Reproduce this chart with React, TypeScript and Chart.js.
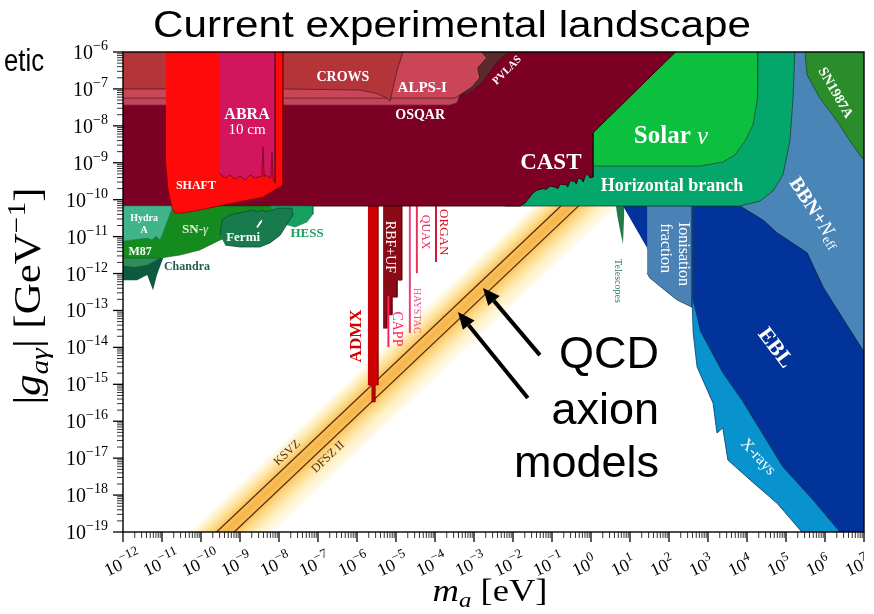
import React, { useEffect, useRef } from "react";
import { Chart, registerables } from "chart.js";

Chart.register(...registerables);

type P = [number, number]; // [log10 m_a (eV), log10 |g| (GeV^-1)]

// ---------- axes ----------
const X_DECADES = [-12, -11, -10, -9, -8, -7, -6, -5, -4, -3, -2, -1, 0, 1, 2, 3, 4, 5, 6, 7];
const Y_DECADES = [-19, -18, -17, -16, -15, -14, -13, -12, -11, -10, -9, -8, -7, -6];

// ---------- QCD axion models: log g = log m + offset ----------
const KSVZ_OFFSET = -9.4;
const DFSZ_OFFSET = -9.85;
const BAND_UPPER = -8.71;
const BAND_LOWER = -10.84;
const MODEL_MASS: [number, number] = [-12.5, 3];

// ---------- exclusion regions (log10 m, log10 g) ----------
const ADMX: P[] = [[-5.72, -10.17], [-5.46, -10.17], [-5.46, -15.02], [-5.54, -15.02], [-5.54, -15.48], [-5.62, -15.48], [-5.62, -15.02], [-5.72, -15.02]];
const RBF_UF: P[] = [[-5.33, -10.17], [-4.85, -10.17], [-4.85, -12.18], [-4.97, -12.18], [-4.97, -12.64], [-5.10, -12.64], [-5.10, -13.12], [-5.23, -13.12], [-5.23, -13.48], [-5.33, -13.48]];
const CAPP: P[] = [[-5.22, -12.6], [-5.17, -12.6], [-5.17, -13.99], [-5.22, -13.99]];
const HAYSTAC: P[] = [[-4.67, -10.17], [-4.62, -10.17], [-4.62, -13.61], [-4.67, -13.61]];
const QUAX: P[] = [[-4.49, -10.17], [-4.44, -10.17], [-4.44, -11.99], [-4.49, -11.99]];
const ORGAN: P[] = [[-4.0, -10.17], [-3.95, -10.17], [-3.95, -11.69], [-4.0, -11.69]];
const TELESCOPES: P[] = [[0.64, -10.17], [0.85, -10.17], [0.85, -10.41], [0.82, -11.2], [0.74, -10.8], [0.67, -10.41]];
const BBN: P[] = [[3.74, -10.17], [5.1, -7.3], [5.23, -5.9], [7.2, -5.9], [7.2, -14.21], [7.0, -14.13], [6.64, -13.53], [5.95, -12.37], [5.54, -11.44], [4.77, -10.9], [4.41, -10.55]];
const SN1987A: P[] = [[5.49, -5.9], [7.2, -5.9], [7.2, -8.93], [6.95, -8.87], [6.64, -8.41], [6.31, -7.87], [5.87, -7.25], [5.54, -6.62], [5.49, -6.03]];
const EBL: P[] = [[0.82, -10.17], [3.82, -10.17], [4.41, -10.55], [4.77, -10.9], [5.54, -11.44], [5.95, -12.37], [6.64, -13.53], [7.0, -14.13], [7.2, -14.13], [7.2, -19.2], [6.54, -19.2], [5.69, -18.13], [4.92, -17.24], [3.87, -15.43], [3.38, -14.69], [2.79, -13.53], [2.59, -12.72], [2.03, -12.45], [1.44, -11.31]];
const IONISATION: P[] = [[1.44, -10.17], [2.59, -10.17], [2.59, -12.91], [2.21, -12.72], [1.95, -12.5], [1.51, -12.12], [1.44, -11.99]];
const XRAYS: P[] = [[2.59, -12.64], [2.62, -13.61], [2.72, -14.53], [3.13, -15.51], [3.23, -16.32], [3.38, -16.18], [3.51, -17.05], [4.08, -17.59], [4.77, -18.22], [5.57, -19.2], [6.54, -19.2], [5.69, -18.13], [4.92, -17.24], [3.87, -15.43], [3.38, -14.69], [2.79, -13.53]];
const HB: P[] = [[-2.21, -10.17], [3.82, -10.17], [4.33, -10.04], [4.67, -9.76], [4.92, -9.33], [5.1, -8.41], [5.18, -7.25], [5.23, -5.9], [-2.21, -5.9]];
const SOLAR: P[] = [[0.05, -8.19], [2.26, -5.9], [4.28, -5.9], [4.28, -6.0], [4.26, -7.25], [4.15, -7.98], [3.95, -8.41], [3.69, -8.79], [3.38, -8.98], [2.79, -9.09], [0.05, -9.09]];
const CAST: P[] = [[-12.2, -5.9], [2.26, -5.9], [0.05, -8.19], [0.05, -9.39], [-0.03, -9.41], [-0.08, -9.3], [-0.15, -9.36], [-0.2, -9.52], [-0.23, -9.45], [-0.33, -9.41], [-0.38, -9.58], [-0.41, -9.5], [-0.54, -9.49], [-0.6, -9.66], [-0.62, -9.6], [-0.79, -9.58], [-0.85, -9.7], [-0.92, -9.66], [-1.05, -9.63], [-1.15, -9.72], [-1.23, -9.7], [-1.38, -9.74], [-1.49, -9.82], [-1.69, -10.09], [-1.82, -10.17], [-12.2, -10.17]];
const OSQAR: P[] = [[-12.2, -5.9], [-3.49, -5.9], [-3.36, -7.16], [-3.44, -7.38], [-3.62, -7.44], [-12.2, -7.44]];
const ALPS_I: P[] = [[-12.2, -5.9], [-2.77, -5.9], [-2.77, -6.03], [-2.67, -6.16], [-2.9, -6.43], [-2.85, -6.7], [-3.05, -6.95], [-3.36, -7.16], [-3.49, -7.25], [-12.2, -7.25]];
const PVLAS: P[] = [[-2.77, -5.9], [-2.03, -5.9], [-2.21, -6.08], [-2.41, -6.27], [-2.59, -6.54], [-2.85, -6.89], [-3.1, -7.08], [-3.36, -7.22], [-3.05, -6.95], [-2.85, -6.7], [-2.9, -6.43], [-2.67, -6.16], [-2.77, -6.03]];
const CROWS: P[] = [[-12.2, -5.9], [-4.77, -5.9], [-4.82, -6.0], [-4.97, -6.49], [-5.08, -6.98], [-5.15, -7.33], [-5.28, -7.22], [-5.54, -7.11], [-5.92, -7.03], [-7.92, -7.0], [-12.2, -7.0]];
const CHANDRA: P[] = [[-12.2, -11.58], [-10.97, -11.58], [-11.13, -12.04], [-11.23, -12.45], [-11.38, -12.04], [-11.64, -12.18], [-12.2, -12.18]];
const M87: P[] = [[-12.2, -11.58], [-11.05, -11.58], [-11.38, -11.77], [-11.69, -11.82], [-12.2, -11.77]];
const SN_GAMMA: P[] = [[-12.2, -10.17], [-7.46, -10.17], [-7.72, -10.41], [-8.49, -10.69], [-9.51, -11.09], [-10.03, -11.36], [-10.54, -11.5], [-11.05, -11.58], [-12.2, -11.58]];
const HYDRA_A: P[] = [[-12.2, -10.17], [-10.72, -10.17], [-10.97, -10.88], [-11.05, -11.09], [-11.15, -10.98], [-11.26, -11.09], [-11.36, -11.04], [-12.2, -11.15]];
const HESS: P[] = [[-8.23, -10.17], [-7.13, -10.17], [-7.13, -10.39], [-7.28, -10.6], [-7.59, -10.74], [-7.85, -10.66]];
const FERMI: P[] = [[-9.51, -10.96], [-9.46, -10.55], [-9.26, -10.41], [-8.87, -10.33], [-8.67, -10.28], [-8.54, -10.33], [-8.44, -10.28], [-8.31, -10.33], [-8.03, -10.23], [-7.67, -10.23], [-7.64, -10.41], [-7.79, -10.66], [-7.97, -10.96], [-8.23, -11.17], [-8.49, -11.28], [-9.0, -11.28], [-9.38, -11.23]];
const FERMI_HOLE: P[] = [[-8.59, -10.74], [-8.51, -10.6], [-8.41, -10.5], [-8.44, -10.63], [-8.54, -10.77]];
const SHAFT: P[] = [[-10.9, -5.9], [-7.9, -5.9], [-7.9, -9.6], [-8.41, -9.93], [-9.18, -10.09], [-10.03, -10.28], [-10.46, -10.36], [-10.67, -10.36], [-10.74, -10.23], [-10.79, -10.01], [-10.85, -9.68], [-10.9, -9.06]];
const ABRA: P[] = [[-9.54, -5.9], [-8.1, -5.9], [-8.1, -9.55], [-8.15, -9.47], [-8.18, -8.71], [-8.21, -9.41], [-8.36, -9.33], [-8.38, -9.38], [-8.41, -8.57], [-8.44, -9.36], [-8.62, -9.41], [-8.74, -9.33], [-8.87, -9.47], [-9.0, -9.36], [-9.13, -9.44], [-9.26, -9.33], [-9.38, -9.41], [-9.54, -9.28]];

// draw order: bottom -> top
const REGIONS: { pts: P[]; fill: string; border: string; bw: number }[] = [
  { pts: ADMX, fill: "#cc0000", border: "#8a0000", bw: 0.6 },
  { pts: RBF_UF, fill: "#8a0a16", border: "#5a0008", bw: 0.6 },
  { pts: CAPP, fill: "#ff1f5a", border: "#ff1f5a", bw: 0 },
  { pts: HAYSTAC, fill: "#e8427a", border: "#e8427a", bw: 0 },
  { pts: QUAX, fill: "#e8305f", border: "#e8305f", bw: 0 },
  { pts: ORGAN, fill: "#d81030", border: "#d81030", bw: 0 },
  { pts: TELESCOPES, fill: "#1f7b48", border: "#1f7b48", bw: 0 },
  { pts: BBN, fill: "#4a85b8", border: "#24405e", bw: 0.8 },
  { pts: SN1987A, fill: "#2a8c2a", border: "#1c4a1c", bw: 0.8 },
  { pts: EBL, fill: "#02339a", border: "#0a1f50", bw: 0.8 },
  { pts: IONISATION, fill: "#4a82b6", border: "#24405e", bw: 0.8 },
  { pts: XRAYS, fill: "#0893cf", border: "#0a3a60", bw: 0.8 },
  { pts: HB, fill: "#05a66b", border: "#1c4d36", bw: 0.9 },
  { pts: SOLAR, fill: "#0cbf3f", border: "#1d5a2e", bw: 0.9 },
  { pts: CAST, fill: "#7b0024", border: "#3a0010", bw: 1 },
  { pts: OSQAR, fill: "#c4455a", border: "#5a1a25", bw: 0.8 },
  { pts: ALPS_I, fill: "#ca4558", border: "#5a1a25", bw: 0.8 },
  { pts: PVLAS, fill: "#5b2a2d", border: "#3a1518", bw: 0.6 },
  { pts: CROWS, fill: "#b3353a", border: "#5a1a20", bw: 0.8 },
  { pts: CHANDRA, fill: "#0d5a40", border: "#0d5a40", bw: 0 },
  { pts: M87, fill: "#318c58", border: "#318c58", bw: 0 },
  { pts: SN_GAMMA, fill: "#148a1f", border: "#0e5a16", bw: 0.6 },
  { pts: HYDRA_A, fill: "#40b58c", border: "#2a7a5c", bw: 0.6 },
  { pts: HESS, fill: "#16a160", border: "#0e6a40", bw: 0.6 },
  { pts: FERMI, fill: "#177b4e", border: "#0d4a30", bw: 0.8 },
  { pts: FERMI_HOLE, fill: "#ffffff", border: "#0d4a30", bw: 0.6 },
  { pts: SHAFT, fill: "#ff0a0a", border: "#8a0000", bw: 0.8 },
  { pts: ABRA, fill: "#d3155e", border: "#6a0a2a", bw: 0.8 },
];

// ---------- labels ----------
type Run = { t: string; size: number; weight?: string; style?: string; dy?: number; family?: string };
type Label = { runs: Run[]; m: number; g: number; rot: number; color: string };
const W = "#ffffff";
const REGION_LABELS: Label[] = [
  { runs: [{ t: "ABRA", size: 16, weight: "bold" }], m: -8.82, g: -7.71, rot: 0, color: W },
  { runs: [{ t: "10 cm", size: 15 }], m: -8.82, g: -8.11, rot: 0, color: W },
  { runs: [{ t: "SHAFT", size: 12, weight: "bold" }], m: -10.13, g: -9.63, rot: 0, color: W },
  { runs: [{ t: "CROWS", size: 14, weight: "bold" }], m: -6.36, g: -6.7, rot: 0, color: W },
  { runs: [{ t: "ALPS-I", size: 15, weight: "bold" }], m: -4.33, g: -6.98, rot: 0, color: W },
  { runs: [{ t: "OSQAR", size: 14, weight: "bold" }], m: -4.38, g: -7.71, rot: 0, color: W },
  { runs: [{ t: "PVLAS", size: 11, weight: "bold" }], m: -2.15, g: -6.5, rot: -45, color: W },
  { runs: [{ t: "CAST", size: 23, weight: "bold" }], m: -1.03, g: -9.01, rot: 0, color: W },
  { runs: [{ t: "Solar ", size: 25, weight: "bold" }, { t: "ν", size: 25, style: "italic" }], m: 2.05, g: -8.3, rot: 0, color: W },
  { runs: [{ t: "Horizontal branch", size: 18, weight: "bold" }], m: 2.08, g: -9.63, rot: 0, color: W },
  { runs: [{ t: "SN1987A", size: 14, weight: "bold" }], m: 6.26, g: -7.11, rot: 60, color: W },
  { runs: [{ t: "BBN+", size: 20, weight: "bold" }, { t: "N", size: 20, style: "italic" }, { t: "eff", size: 13, dy: 5 }], m: 5.74, g: -10.36, rot: 57, color: W },
  { runs: [{ t: "Ionisation", size: 16 }], m: 2.36, g: -11.47, rot: 90, color: W },
  { runs: [{ t: "fraction", size: 16 }], m: 1.9, g: -11.31, rot: 90, color: W },
  { runs: [{ t: "EBL", size: 22, weight: "bold" }], m: 4.72, g: -14.02, rot: 53, color: W },
  { runs: [{ t: "X-rays", size: 16 }], m: 4.28, g: -16.97, rot: 47, color: W },
  { runs: [{ t: "Telescopes", size: 10 }], m: 0.69, g: -12.2, rot: 90, color: "#1f7b48" },
  { runs: [{ t: "Hydra", size: 10, weight: "bold" }], m: -11.46, g: -10.52, rot: 0, color: W },
  { runs: [{ t: "A", size: 10, weight: "bold" }], m: -11.46, g: -10.82, rot: 0, color: W },
  { runs: [{ t: "SN-", size: 13, weight: "bold" }, { t: "γ", size: 13, style: "italic" }], m: -10.15, g: -10.82, rot: 0, color: "#e6f4d6" },
  { runs: [{ t: "M87", size: 12, weight: "bold" }], m: -11.56, g: -11.42, rot: 0, color: W },
  { runs: [{ t: "Fermi", size: 13, weight: "bold" }], m: -8.92, g: -11.04, rot: 0, color: W },
  { runs: [{ t: "HESS", size: 13, weight: "bold" }], m: -7.28, g: -10.93, rot: 0, color: "#17a062" },
  { runs: [{ t: "Chandra", size: 12, weight: "bold" }], m: -10.36, g: -11.82, rot: 0, color: "#1c5f50" },
  { runs: [{ t: "ADMX", size: 17, weight: "bold" }], m: -6.0, g: -13.69, rot: -90, color: "#d10000" },
  { runs: [{ t: "RBF+UF", size: 14 }], m: -5.15, g: -11.28, rot: 90, color: W },
  { runs: [{ t: "CAPP", size: 14 }], m: -4.97, g: -13.5, rot: 90, color: "#ff2a64" },
  { runs: [{ t: "HAYSTAC", size: 10 }], m: -4.46, g: -13.01, rot: 90, color: "#e2508a" },
  { runs: [{ t: "QUAX", size: 12 }], m: -4.26, g: -10.88, rot: 90, color: "#e42a5a" },
  { runs: [{ t: "ORGAN", size: 13 }], m: -3.79, g: -10.88, rot: 90, color: "#d81020" },
  { runs: [{ t: "KSVZ", size: 12 }], m: -7.79, g: -16.86, rot: -43.4, color: "#5a2d0c" },
  { runs: [{ t: "DFSZ II", size: 12 }], m: -6.74, g: -16.97, rot: -43.4, color: "#5a2d0c" },
];

// arrows: [tail m, tail g, head m, head g]
const ARROWS: [number, number, number, number][] = [
  [-1.31, -14.21, -2.77, -12.39],
  [-1.62, -15.37, -3.41, -13.04],
];

const SERIF = '"Liberation Serif", "Times New Roman", serif';
const SANS = '"Liberation Sans", Arial, Helvetica, sans-serif';

function drawRuns(
  ctx: CanvasRenderingContext2D,
  runs: Run[],
  x: number,
  y: number,
  o: { rot?: number; align?: string; color: string; fit?: number; baseline?: CanvasTextBaseline; ox?: number }
) {
  const fontOf = (r: Run) => `${r.style || "normal"} ${r.weight || "normal"} ${r.size}px ${r.family || SERIF}`;
  ctx.save();
  const widths = runs.map((r) => {
    ctx.font = fontOf(r);
    return ctx.measureText(r.t).width;
  });
  const total = widths.reduce((a, b) => a + b, 0);
  const sx = o.fit ? o.fit / total : 1;
  ctx.translate(x, y);
  if (o.rot) ctx.rotate((o.rot * Math.PI) / 180);
  ctx.scale(sx, 1);
  ctx.fillStyle = o.color;
  ctx.textAlign = "left";
  ctx.textBaseline = o.baseline || "alphabetic";
  let cx = o.ox !== undefined ? o.ox : o.align === "left" ? 0 : o.align === "right" ? -total : -total / 2;
  runs.forEach((r, i) => {
    ctx.font = fontOf(r);
    ctx.fillText(r.t, cx, r.dy || 0);
    cx += widths[i];
  });
  ctx.restore();
}

function bandGradient(c: any) {
  const chart = c.chart;
  if (!chart || !chart.chartArea || !chart.scales || !chart.scales.x) return "#fbd27a";
  const xs = chart.scales.x;
  const ys = chart.scales.y;
  const Pp = (m: number, g: number) => [xs.getPixelForValue(Math.pow(10, m)), ys.getPixelForValue(Math.pow(10, g))];
  const m0 = -8;
  const A = Pp(m0, m0 + BAND_UPPER);
  const B = Pp(m0 + (BAND_UPPER - BAND_LOWER), m0 + BAND_UPPER);
  const A2 = Pp(m0 + 1, m0 + 1 + BAND_UPPER);
  let dx = A2[0] - A[0];
  let dy = A2[1] - A[1];
  const L = Math.hypot(dx, dy);
  dx /= L;
  dy /= L;
  const dot = (B[0] - A[0]) * dx + (B[1] - A[1]) * dy;
  const Fx = B[0] - dot * dx;
  const Fy = B[1] - dot * dy;
  const g = chart.ctx.createLinearGradient(A[0], A[1], Fx, Fy);
  g.addColorStop(0, "#fffbee");
  g.addColorStop(0.1, "#fff1c8");
  g.addColorStop(0.22, "#fddd8e");
  g.addColorStop(0.32, "#f9c461");
  g.addColorStop(0.43, "#f6b54a");
  g.addColorStop(0.54, "#f9c461");
  g.addColorStop(0.66, "#fddd8e");
  g.addColorStop(0.82, "#fff1c8");
  g.addColorStop(1, "#fffbee");
  return g;
}

function buildDatasets() {
  const toXY = (pts: P[]) => pts.map(([m, g]) => ({ x: Math.pow(10, m), y: Math.pow(10, g) }));
  const [m0, m1] = MODEL_MASS;
  const ds: any[] = [];
  ds.push({
    label: "QCD band",
    data: toXY([[m0, m0 + BAND_UPPER], [m1, m1 + BAND_UPPER], [m1, m1 + BAND_LOWER], [m0, m0 + BAND_LOWER]]),
    fill: "shape",
    backgroundColor: bandGradient,
    borderWidth: 0,
    borderColor: "rgba(0,0,0,0)",
  });
  ds.push({ label: "KSVZ", data: toXY([[m0, m0 + KSVZ_OFFSET], [m1, m1 + KSVZ_OFFSET]]), fill: false, borderColor: "#5a2d0c", borderWidth: 1.3 });
  ds.push({ label: "DFSZ II", data: toXY([[m0, m0 + DFSZ_OFFSET], [m1, m1 + DFSZ_OFFSET]]), fill: false, borderColor: "#5a2d0c", borderWidth: 1.3 });
  REGIONS.forEach((r, i) => {
    ds.push({ label: "r" + i, data: toXY(r.pts), fill: "shape", backgroundColor: r.fill, borderColor: r.border, borderWidth: r.bw });
  });
  const n = ds.length;
  return ds.map((d, i) => ({ ...d, showLine: true, pointRadius: 0, pointHoverRadius: 0, pointHitRadius: 0, tension: 0, order: n - i }));
}

const overlayPlugin = {
  id: "overlay",
  afterDraw(chart: any) {
    const ctx: CanvasRenderingContext2D = chart.ctx;
    const xs = chart.scales.x;
    const ys = chart.scales.y;
    const area = chart.chartArea;
    const px = (e: number) => xs.getPixelForValue(Math.pow(10, e));
    const py = (e: number) => ys.getPixelForValue(Math.pow(10, e));

    // region labels
    ctx.save();
    ctx.beginPath();
    ctx.rect(area.left, area.top, area.right - area.left, area.bottom - area.top);
    ctx.clip();
    REGION_LABELS.forEach((l) => {
      drawRuns(ctx, l.runs, px(l.m), py(l.g), { rot: l.rot, align: "center", color: l.color, baseline: "middle" });
    });
    // arrows
    ARROWS.forEach(([tm, tg, hm, hg]) => {
      const x1 = px(tm), y1 = py(tg), x2 = px(hm), y2 = py(hg);
      const ang = Math.atan2(y2 - y1, x2 - x1);
      const headLen = 17, headW = 7.5;
      const bx = x2 - headLen * Math.cos(ang);
      const by = y2 - headLen * Math.sin(ang);
      ctx.strokeStyle = "#000";
      ctx.fillStyle = "#000";
      ctx.lineWidth = 4;
      ctx.beginPath();
      ctx.moveTo(x1, y1);
      ctx.lineTo(bx, by);
      ctx.stroke();
      ctx.beginPath();
      ctx.moveTo(x2, y2);
      ctx.lineTo(bx + headW * Math.sin(ang), by - headW * Math.cos(ang));
      ctx.lineTo(bx - headW * Math.sin(ang), by + headW * Math.cos(ang));
      ctx.closePath();
      ctx.fill();
    });
    ctx.restore();

    // QCD text
    const qcd = [
      { t: "QCD", y: 368 },
      { t: "axion", y: 424 },
      { t: "models", y: 477 },
    ];
    qcd.forEach((q) => drawRuns(ctx, [{ t: q.t, size: 45, family: SANS }], 659, q.y, { align: "right", color: "#000" }));

    // frame
    ctx.save();
    ctx.strokeStyle = "#000";
    ctx.lineWidth = 1.4;
    ctx.strokeRect(area.left, area.top, area.right - area.left, area.bottom - area.top);
    // ticks
    for (const d of X_DECADES) {
      for (let k = 1; k <= 9; k++) {
        const v = k * Math.pow(10, d);
        if (v > 1.0001e7) break;
        const x = xs.getPixelForValue(v);
        ctx.lineWidth = k === 1 ? 1.3 : 0.8;
        ctx.beginPath();
        ctx.moveTo(x, area.bottom);
        ctx.lineTo(x, area.bottom + (k === 1 ? 10 : 6));
        ctx.stroke();
      }
    }
    for (const d of Y_DECADES) {
      for (let k = 1; k <= 9; k++) {
        const v = k * Math.pow(10, d);
        if (v > 1.0001e-6) break;
        const y = ys.getPixelForValue(v);
        ctx.lineWidth = k === 1 ? 1.3 : 0.8;
        ctx.beginPath();
        ctx.moveTo(area.left, y);
        ctx.lineTo(area.left - (k === 1 ? 10 : 6), y);
        ctx.stroke();
      }
    }
    ctx.restore();

    // y tick labels
    for (const d of Y_DECADES) {
      drawRuns(ctx, [{ t: "10", size: 20 }, { t: "−" + Math.abs(d), size: 14, dy: -9 }], 108, py(d) + 7, { align: "right", color: "#000" });
    }
    // x tick labels
    ctx.font = `normal normal 18px ${SERIF}`;
    const w10 = ctx.measureText("10").width;
    for (const d of X_DECADES) {
      const sup = d < 0 ? "−" + Math.abs(d) : String(d);
      drawRuns(ctx, [{ t: "10", size: 18 }, { t: sup, size: 13, dy: -8 }], px(d) + 1, 569, { rot: -25, ox: -w10, color: "#000" });
    }

    // axis titles
    drawRuns(
      ctx,
      [
        { t: "|", size: 38 },
        { t: "g", size: 38, style: "italic" },
        { t: "aγ", size: 26, style: "italic", dy: 8 },
        { t: "| [GeV", size: 38 },
        { t: "−1", size: 26, dy: -15 },
        { t: "]", size: 38 },
      ],
      40,
      296,
      { rot: -90, align: "center", color: "#000", fit: 217 }
    );
    drawRuns(
      ctx,
      [
        { t: "m", size: 31, style: "italic" },
        { t: "a", size: 21, style: "italic", dy: 6 },
        { t: " [eV]", size: 31 },
      ],
      490,
      601,
      { align: "center", color: "#000", fit: 115 }
    );

    // slide title & fragment
    drawRuns(ctx, [{ t: "Current experimental landscape", size: 36, family: SANS }], 153, 37, { align: "left", color: "#000", fit: 598 });
    drawRuns(ctx, [{ t: "etic", size: 31, family: SANS }], 4, 71, { align: "left", color: "#000", fit: 40 });
  },
};

export default function App() {
  const ref = useRef<HTMLCanvasElement>(null);
  useEffect(() => {
    document.body.style.margin = "0";
    const canvas = ref.current;
    if (!canvas) return;
    const chart = new Chart(canvas, {
      type: "scatter",
      data: { datasets: buildDatasets() },
      options: {
        responsive: false,
        animation: false,
        events: [],
        layout: { padding: { left: 123, top: 52, right: 10, bottom: 82 } },
        plugins: { legend: { display: false }, tooltip: { enabled: false }, title: { display: false } },
        scales: {
          x: { type: "logarithmic", min: 1e-12, max: 1e7, display: false },
          y: { type: "logarithmic", min: 1e-19, max: 1e-6, display: false },
        },
      } as any,
      plugins: [overlayPlugin],
    });
    return () => chart.destroy();
  }, []);
  return (
    <div style={{ position: "absolute", left: 0, top: 0, width: 874, height: 614, background: "#fff" }}>
      <canvas ref={ref} width={874} height={614} style={{ display: "block", width: 874, height: 614 }} />
    </div>
  );
}
